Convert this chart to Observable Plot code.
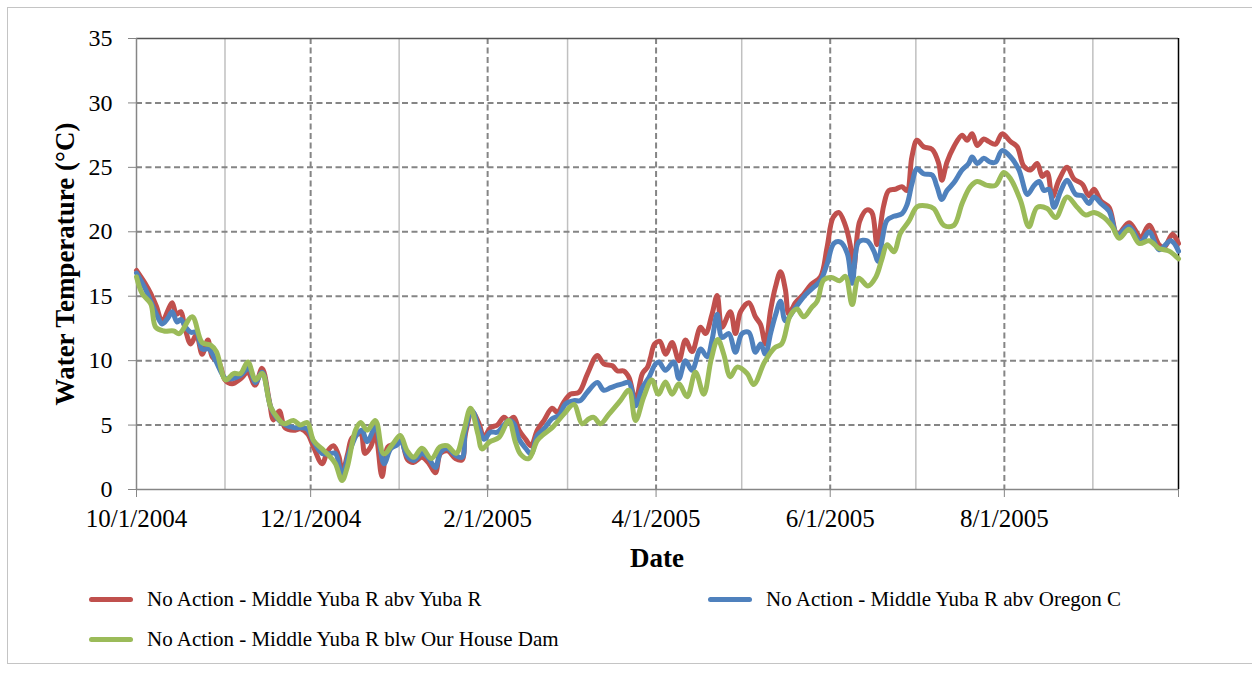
<!DOCTYPE html>
<html><head><meta charset="utf-8">
<script src="https://cdn.jsdelivr.net/npm/d3@7"></script>
<script src="https://cdn.jsdelivr.net/npm/@observablehq/plot@0.6"></script>
<style>
body{margin:0;background:#fff;font-family:"Liberation Serif","Times New Roman",serif;}
#wrap{position:relative;width:1252px;height:673px;overflow:hidden;background:#fff}
#frame{position:absolute;left:7px;top:7px;width:1270px;height:657px;border:1px solid #c4c4c4;box-sizing:border-box}
#chart{position:absolute;left:0;top:0}
.ttl{position:absolute;font-weight:bold;font-size:27px;color:#000;white-space:nowrap}
#ytitle{left:65px;top:264px;transform:translate(-50%,-50%) rotate(-90deg)}
#xtitle{left:657px;top:558px;transform:translate(-50%,-50%)}
.leg{position:absolute;font-size:21px;color:#000;white-space:nowrap;display:flex;align-items:center;height:24px}
.sw{display:inline-block;width:44px;height:5px;border-radius:2.5px;margin-right:14px}
</style></head>
<body>
<div id="wrap">
<div id="frame"></div>
<div id="chart"></div>
<div class="ttl" id="ytitle">Water Temperature (°C)</div>
<div class="ttl" id="xtitle">Date</div>
<div id="legend"></div>
</div>
<script>
// Series names and colors
const seriesNames = [
  "No Action - Middle Yuba R abv Yuba R",
  "No Action - Middle Yuba R abv Oregon C",
  "No Action - Middle Yuba R blw Our House Dam"
];
const seriesColors = ["#C0504D", "#4F81BD", "#9BBB59"];

// Days since 10/1/2004 and water temperature (°C) for each series
const redDays = [0,3,5,7,9,11,12.5,14,15.5,17,19,21,23,25,26.5,29,31,33.5,36.5,39,41.5,44,46.5,48,50,52,55,57.5,60,62,65,67,69,71,72,74,75.5,78.5,80,82,83.7,86,88,90,92.5,95,97,100,102.5,104.7,106.5,109,111.7,114,115.2,117.6,120,121.7,124,126.4,128.7,130.4,132.2,134,136.3,138.2,140.4,142.7,145.6,147.4,149.7,152,155,158,161.4,163.7,166.7,168.5,170.7,172.5,174.8,177.2,179,180,181.5,183.3,185.4,187.6,190,192.3,194.6,197.6,199.3,201.6,203.4,205.1,208,209.8,211.6,214.5,216.8,218.6,220.3,222.1,223.8,225.6,227.3,228.5,230.8,233.5,236.3,239.6,241.9,244,246,248.3,250,251.2,253.3,255.9,257.6,259.4,261.7,263.5,265.8,268.1,269.9,271.6,273.4,275.7,278.7,281,282.1,283.9,286.3,289.2,290.9,292.7,294.5,296.8,298.5,300.9,303.2,306.2,308.5,310.8,313.2,315.5,317.3,319,320.8,323.1,326,328.4,331.3,333.6,335.4,337.8,340.7,343.6,347.7,351.8,354.7,358.2,360,362.9,365];
const redTemps = [17.0,16.0,15.2,14.2,13.0,13.9,14.5,13.6,13.8,12.5,11.3,12.0,10.5,11.6,10.3,9.8,8.5,8.2,8.6,9.1,8.1,9.4,6.9,5.4,6.1,4.8,4.6,4.7,4.3,3.3,2.0,3.0,3.4,2.5,1.2,2.8,4.0,4.3,2.8,3.3,4.3,1.0,3.3,3.5,3.9,2.3,2.1,2.5,2.0,1.3,2.8,3.0,2.4,2.3,4.3,6.0,5.1,4.05,4.8,5.0,5.6,5.35,5.6,4.6,3.9,3.4,4.6,5.35,6.3,6.0,6.8,7.4,7.55,9.0,10.4,9.75,9.6,9.2,9.2,8.7,6.9,9.0,9.5,10.2,11.3,11.5,10.5,11.4,10.0,11.6,10.7,12.6,12.1,13.6,15.05,12.6,13.8,12.1,13.8,14.5,13.4,12.8,11.3,13.9,15.7,16.9,15.5,13.6,14.5,15.1,15.9,16.5,18.8,21.1,21.5,20.5,19.0,17.1,20.8,21.7,21.5,19.0,22.0,23.2,23.3,23.5,23.2,25.8,27.1,26.6,26.4,25.3,24.0,25.4,26.6,27.5,27.1,27.6,26.7,27.2,27.0,26.8,27.6,27.0,26.6,25.1,24.8,25.3,24.3,24.6,22.7,24.0,25.0,24.1,23.7,22.8,23.3,22.4,21.9,19.8,20.7,19.6,20.5,19.0,18.8,19.8,19.1];

const blueDays = [0,3,5,7.2,9,11,12.5,14.2,15.5,17.2,19,21,23,25.4,27.7,31.2,33.5,36.4,39.3,41.7,44,47,49.3,52.2,55.1,57.4,59.8,62.1,65,68,69.7,72,74.4,77.3,79,80.8,83.7,86.7,89,91.4,92.5,94.8,97.1,100,102.4,104.7,106.5,108.8,111.7,114.1,115.2,117.6,119.9,121.7,124,126.4,128.7,130.4,132.2,134,136.3,138.2,140.4,142.7,145.6,148,150.3,153.2,155.5,157.9,161.4,163.7,166.1,168.5,170.2,172.5,174.8,177.2,179.5,181.8,183,185.3,188.2,190,192.3,194.6,197.6,199.9,201.6,203.4,205.1,207.5,209.8,212.1,214.5,216.8,218.6,220.3,222.1,223.8,225.6,227.3,230.8,234.3,237.2,239.6,241.9,244.3,246.6,249,250.7,253,255.9,258.3,259.8,261.3,262.9,265.3,268.1,269.9,271.6,273.4,275.7,278.7,280.4,282.1,283.9,286.3,289.2,291.5,292.7,294.5,296.8,299.1,300.9,303.2,306.2,309.1,312.1,314.4,316.2,317.9,319.6,321.4,323.8,326,329,331.3,333.6,335.4,337.8,340.7,343.6,347.7,351.8,354.7,358.2,362.3,365];
const blueTemps = [16.8,15.6,14.6,13.5,12.85,13.3,13.8,13.0,13.2,12.6,12.2,12.2,10.9,10.9,10.0,8.6,8.6,8.85,9.4,8.3,9.1,6.4,5.5,5.0,4.8,4.8,4.7,3.7,2.8,2.8,2.8,1.1,2.8,4.3,4.6,3.7,4.8,2.0,3.15,3.5,3.9,2.6,2.25,2.8,2.4,1.7,2.9,3.2,2.65,2.5,4.6,6.1,4.8,3.9,4.45,4.45,5.0,5.35,5.1,3.9,3.2,2.75,4.2,4.7,5.5,5.75,6.65,6.9,6.9,7.55,8.3,7.7,7.9,8.1,8.2,8.3,6.5,7.9,8.7,9.75,9.9,9.25,9.9,8.6,10.0,9.25,10.9,10.3,11.6,13.6,11.8,12.1,10.65,12.1,12.2,10.65,11.3,10.5,12.1,13.5,14.6,13.1,14.1,15.1,15.7,16.2,17.5,19.1,19.2,18.3,16.0,19.2,19.3,18.5,17.7,19.5,20.9,21.2,21.4,22.1,23.7,24.9,24.5,24.4,23.5,22.5,23.2,23.8,24.8,25.3,25.8,25.3,25.7,25.4,25.4,26.3,25.8,24.8,22.9,23.6,23.9,23.2,23.3,21.9,23.2,24.0,22.9,22.8,22.2,22.7,22.2,21.6,19.8,20.4,19.2,20.0,18.6,19.3,18.5];

const greenDays = [0,2,5,6.7,9.6,13,15,19.5,23,26,28,31.2,34,36.4,39,41.7,44,47,49.3,51.6,55,57.4,59.8,62,65,68,69.7,72,73.8,76.7,78.5,80.8,83.7,86.6,90,92.4,94.8,97.1,100,103.3,106.3,108.8,112,114.6,117,119.6,121,123.7,127,130.4,132.7,134.5,137.4,140.4,142.7,145.6,149.7,153.2,156.1,158.5,160.2,162.5,165.5,169.5,172.5,174.8,177.7,180.5,182.8,185.3,187.6,190,192.9,195.8,198.7,201.3,203.6,205.7,208,210.4,213.9,216.2,220,223.5,226,229,231.4,233.7,236.4,238.4,240.7,243.4,246.3,248.3,250.7,253,256.2,259,261,263,265.3,267.6,270.5,273.5,277,279.3,282.8,286.3,289.2,292.1,294.5,298,300.9,303.8,306.2,309.7,312.6,315.5,319,322,326,329.5,332.5,335.4,338.9,341.8,344.2,347.7,351.2,354.7,358.2,361.7,365];
const greenTemps = [16.5,15.2,14.4,12.6,12.3,12.3,12.1,13.4,11.4,11.2,10.7,8.5,9.0,9.0,9.9,8.5,9.0,6.4,5.6,5.1,5.35,5.0,5.2,3.8,3.15,2.5,2.0,0.7,1.7,4.6,5.2,4.6,5.35,2.77,3.6,4.2,3.0,2.5,3.2,2.4,3.3,3.4,2.8,4.5,6.3,4.3,3.15,3.7,4.05,5.35,3.7,2.75,2.4,3.8,4.3,4.8,5.85,6.6,5.1,5.5,5.6,5.1,5.85,6.9,7.7,5.35,7.2,8.5,7.4,8.35,7.4,8.2,7.2,9.1,7.4,10.1,11.65,10.5,8.75,9.5,9.0,8.15,9.9,11.0,11.3,13.5,14.0,13.4,14.1,14.6,16.25,16.45,16.2,16.55,14.35,16.4,15.8,16.5,17.8,19.0,18.45,19.9,20.8,21.95,22.0,21.8,20.5,20.5,22.2,23.5,23.9,23.6,23.6,24.6,24.1,22.4,20.4,21.9,21.8,21.1,22.7,21.9,21.3,21.5,21.1,20.4,19.5,20.2,19.1,19.3,18.7,18.5,17.9];

// Axis ticks
const yTicks = [0,5,10,15,20,25,30,35];
const majorTickDates = ["2004-10-01","2004-12-01","2005-02-01","2005-04-01","2005-06-01","2005-08-01","2005-10-01"];
const minorTickDates = ["2004-11-01","2005-01-01","2005-03-01","2005-05-01","2005-07-01","2005-09-01"];

const start = new Date("2004-10-01T00:00:00Z");
const end = new Date("2005-10-01T00:00:00Z");
const toDate = d => new Date(start.getTime() + d * 864e5);
const majors = majorTickDates.map(s => new Date(s + "T00:00:00Z"));
const minors = minorTickDates.map(s => new Date(s + "T00:00:00Z"));

const seriesData = [[redDays, redTemps],[blueDays, blueTemps],[greenDays, greenTemps]];
const rows = [];
seriesData.forEach(([days, temps], k) => days.forEach((d, i) => rows.push({date: toDate(d), temp: temps[i], name: seriesNames[k]})));

const fmt = d => (d.getTime() === end.getTime()) ? "" : `${d.getUTCMonth()+1}/${d.getUTCDate()}/${d.getUTCFullYear()}`;

const chart = Plot.plot({
  width: 1252,
  height: 575,
  marginLeft: 136,
  marginRight: 74,
  marginTop: 38,
  marginBottom: 86,
  style: {fontFamily: "'Liberation Serif','Times New Roman',serif", fontSize: "25px", color: "#000", background: "transparent"},
  x: {type: "utc", domain: [start, end]},
  y: {domain: [0, 35]},
  color: {domain: seriesNames, range: seriesColors},
  marks: [
    Plot.ruleX(minors, {stroke: "#c0c0c0", strokeWidth: 1.5}),
    Plot.ruleX(majors.slice(1, -1), {stroke: "#858585", strokeWidth: 2, strokeDasharray: "6,3.5"}),
    Plot.ruleY(yTicks.slice(1, -1), {stroke: "#858585", strokeWidth: 2, strokeDasharray: "6,3.5"}),
    Plot.ruleY([35], {stroke: "#555", strokeWidth: 1.5}),
    Plot.ruleX([end], {stroke: "#000", strokeWidth: 1.5}),
    Plot.ruleX([start], {stroke: "#868686", strokeWidth: 1.5}),
    Plot.ruleY([0], {stroke: "#868686", strokeWidth: 1.5}),
    Plot.lineY(rows, {x: "date", y: "temp", z: "name", stroke: "name", strokeWidth: 5, curve: "catmull-rom", strokeLinejoin: "round", strokeLinecap: "round"}),
    Plot.axisY({ticks: yTicks, tickSize: 8, tickPadding: 16, stroke: "#868686", label: null, fontSize: 24}),
    Plot.axisX({ticks: majors, tickSize: 8, tickPadding: 12, stroke: "#868686", tickFormat: fmt, label: null, fontSize: 25})
  ]
});
document.getElementById("chart").appendChild(chart);

// Legend
const legendPos = [[89, 599], [708, 599], [89, 639]];
const legend = document.getElementById("legend");
seriesNames.forEach((name, i) => {
  const el = document.createElement("div");
  el.className = "leg";
  el.style.left = legendPos[i][0] + "px";
  el.style.top = (legendPos[i][1] - 12) + "px";
  const sw = document.createElement("span");
  sw.className = "sw";
  sw.style.background = seriesColors[i];
  el.appendChild(sw);
  el.appendChild(document.createTextNode(name));
  legend.appendChild(el);
});
</script>
</body></html>
